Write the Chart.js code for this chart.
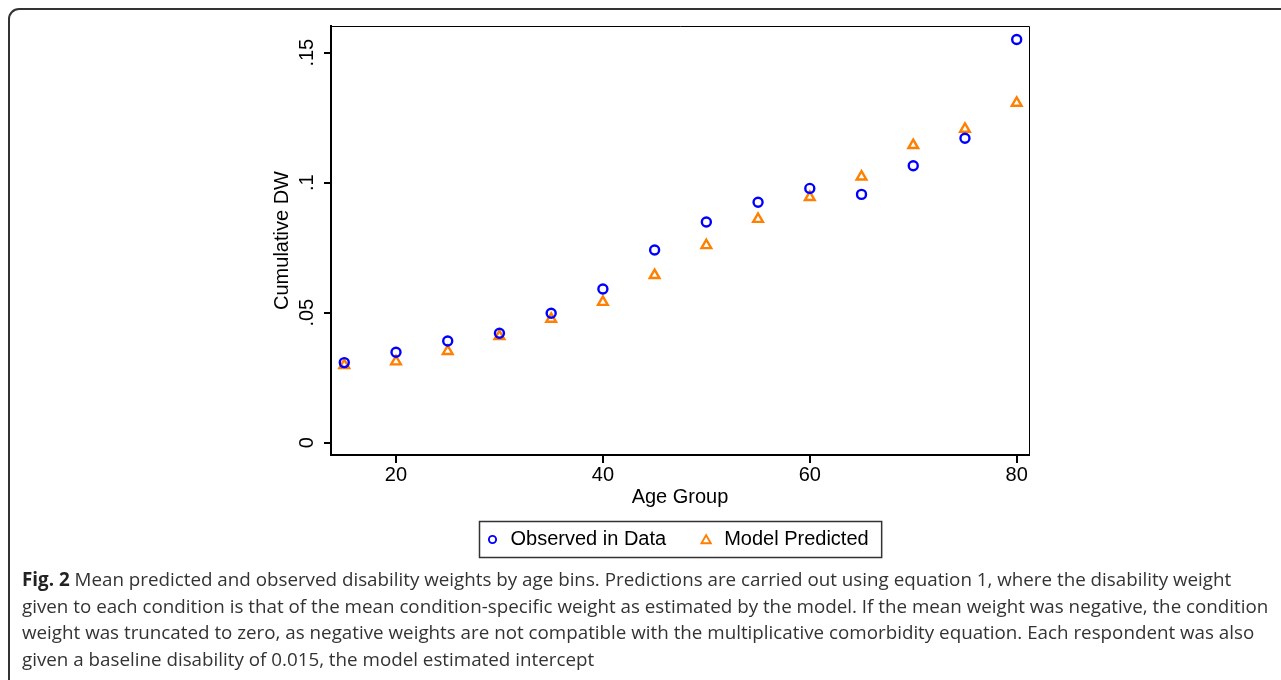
<!DOCTYPE html>
<html><head><meta charset="utf-8">
<script src="https://cdn.jsdelivr.net/npm/chart.js@4.4.1/dist/chart.umd.min.js"></script>
<style>
html,body{margin:0;padding:0;width:1281px;height:680px;overflow:hidden;background:#fff;}
#frame{position:absolute;left:8px;top:8px;width:1400px;height:800px;box-sizing:border-box;border:2px solid #333;border-radius:11px;}
#wrap{position:absolute;left:0;top:0;width:1281px;height:680px;}
#caption{position:absolute;left:22px;top:566px;font-family:"Open Sans",sans-serif;font-size:18.8px;line-height:26.6px;color:#333;white-space:nowrap;}
#caption b{color:#222;}
</style></head><body>
<div id="frame"></div>
<div id="wrap"><canvas id="c" width="1281" height="680"></canvas></div>
<div id="caption">
<div><b>Fig. 2</b> Mean predicted and observed disability weights by age bins. Predictions are carried out using equation 1, where the disability weight</div>
<div>given to each condition is that of the mean condition-specific weight as estimated by the model. If the mean weight was negative, the condition</div>
<div>weight was truncated to zero, as negative weights are not compatible with the multiplicative comorbidity equation. Each respondent was also</div>
<div>given a baseline disability of 0.015, the model estimated intercept</div>
</div>
<script>
const ageGroups = [15, 20, 25, 30, 35, 40, 45, 50, 55, 60, 65, 70, 75, 80];
const observed  = [0.0308, 0.0348, 0.0391, 0.0421, 0.0498, 0.0591, 0.0741, 0.0849, 0.0925, 0.0978, 0.0955, 0.1065, 0.1171, 0.1551];
const predicted = [0.0298, 0.0312, 0.0352, 0.0409, 0.0476, 0.0541, 0.0644, 0.0759, 0.0860, 0.0944, 0.1023, 0.1144, 0.1207, 0.1307];
const seriesNames = ['Observed in Data', 'Model Predicted'];
const seriesColors = ['#0000ff', '#ff7f00'];
const seriesShapes = ['circle', 'triangle'];
const xTickValues = [20, 40, 60, 80];
const yTickValues = [0, 0.05, 0.1, 0.15];
const yTickLabels = ['0', '.05', '.1', '.15'];
const xTitle = 'Age Group';
const yTitle = 'Cumulative DW';

const FONT = '"Liberation Sans", Arial, sans-serif';

function drawMarker(ctx, shape, x, y, r, color, lw) {
  ctx.save();
  ctx.strokeStyle = color;
  ctx.lineWidth = lw;
  ctx.beginPath();
  if (shape === 'circle') {
    ctx.arc(x, y, r, 0, Math.PI * 2);
  } else {
    let a = 0;
    ctx.moveTo(x + Math.sin(a) * r, y - Math.cos(a) * r);
    a += 2 * Math.PI / 3;
    ctx.lineTo(x + Math.sin(a) * r, y - Math.cos(a) * r);
    a += 2 * Math.PI / 3;
    ctx.lineTo(x + Math.sin(a) * r, y - Math.cos(a) * r);
    ctx.closePath();
  }
  ctx.stroke();
  ctx.restore();
}

const framePlugin = {
  id: 'frameLines',
  afterDraw(chart) {
    const {ctx, chartArea: ca} = chart;
    ctx.save();
    ctx.strokeStyle = '#000';
    ctx.lineWidth = 1;
    ctx.beginPath();
    ctx.moveTo(ca.left, Math.round(ca.top) + 0.5);
    ctx.lineTo(Math.round(ca.right) + 0.5, Math.round(ca.top) + 0.5);
    ctx.lineTo(Math.round(ca.right) + 0.5, ca.bottom);
    ctx.stroke();
    ctx.restore();
  }
};

const legendPlugin = {
  id: 'boxedLegend',
  afterDraw(chart) {
    const {ctx, chartArea: ca} = chart;
    const ds = chart.data.datasets;
    ctx.save();
    ctx.font = '20px ' + FONT;
    const w = ds.map(d => ctx.measureText(d.label).width);
    const total = 13 + 18 + w[0] + 40 + 17 + w[1] + 14;
    const cx = (ca.left + ca.right) / 2;
    const left = Math.round(cx - total / 2) + 0.5;
    const top = Math.round(ca.bottom + 66) + 0.5;
    const h = 36;
    ctx.strokeStyle = '#333';
    ctx.lineWidth = 1.5;
    ctx.strokeRect(left, top, total, h);
    const cy = top + h / 2;
    let x = left + 13;
    ds.forEach((d, i) => {
      const isCircle = d.pointStyle === 'circle';
      drawMarker(ctx, d.pointStyle, x, cy + (isCircle ? 0 : 1), isCircle ? 3.6 : 5.4, d.pointBorderColor, 1.9);
      ctx.fillStyle = '#000';
      ctx.textBaseline = 'middle';
      ctx.textAlign = 'left';
      ctx.fillText(d.label, x + 18, cy);
      x = x + 18 + w[i] + 40;
    });
    ctx.restore();
  }
};

const datasets = seriesNames.map((name, s) => {
  const vals = s === 0 ? observed : predicted;
  return {
    label: name,
    data: ageGroups.map((a, i) => ({x: a, y: vals[i]})),
    pointStyle: seriesShapes[s],
    pointRadius: s === 0 ? 4.5 : 5.6,
    pointBorderWidth: 2.4,
    pointBorderColor: seriesColors[s],
    pointBackgroundColor: 'rgba(0,0,0,0)',
    showLine: false
  };
});

new Chart(document.getElementById('c'), {
  type: 'scatter',
  data: {datasets},
  options: {
    responsive: false,
    animation: false,
    events: [],
    layout: {padding: {left: 250, right: 252, top: 26, bottom: 165}},
    plugins: {legend: {display: false}, tooltip: {enabled: false}},
    scales: {
      x: {
        type: 'linear',
        position: 'bottom',
        min: 13.717,
        max: 81.19,
        afterBuildTicks: s => { s.ticks = xTickValues.map(v => ({value: v})); },
        afterFit: s => { s.height = 60; },
        ticks: {font: {family: FONT, size: 20}, color: '#000', padding: 0, maxRotation: 0, autoSkip: false,
                callback: v => String(v)},
        grid: {drawOnChartArea: false, drawTicks: true, tickLength: 8, color: '#000', lineWidth: 2},
        border: {display: true, color: '#000', width: 2},
        title: {display: true, text: xTitle, font: {family: FONT, size: 20}, color: '#000', padding: {top: 0, bottom: 6}}
      },
      y: {
        type: 'linear',
        position: 'left',
        min: -0.00473,
        max: 0.16027,
        afterBuildTicks: s => { s.ticks = yTickValues.map(v => ({value: v})); },
        afterFit: s => { s.width = 81; },
        ticks: {font: {family: FONT, size: 20}, color: '#000', padding: 3, minRotation: 90, maxRotation: 90,
                crossAlign: 'center', autoSkip: false,
                callback: (v, i) => yTickLabels[i]},
        grid: {drawOnChartArea: false, drawTicks: true, tickLength: 7, color: '#000', lineWidth: 2},
        border: {display: true, color: '#000', width: 2},
        title: {display: true, text: yTitle, font: {family: FONT, size: 20}, color: '#000', padding: {top: 20, bottom: 0}}
      }
    }
  },
  plugins: [framePlugin, legendPlugin]
});
</script>
</body></html>
